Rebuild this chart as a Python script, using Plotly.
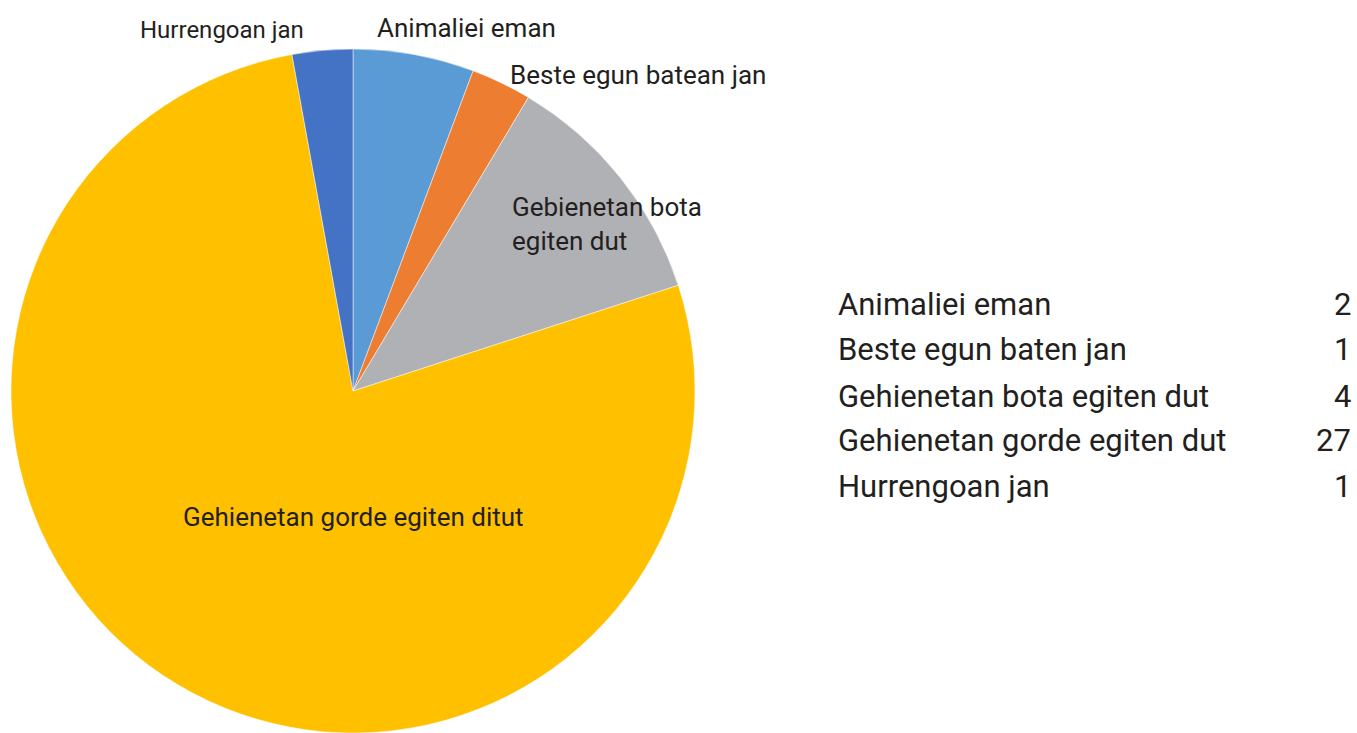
import plotly.graph_objects as go

# data
categories = ["Animaliei eman", "Beste egun baten jan", "Gehienetan bota egiten dut",
              "Gehienetan gorde egiten dut", "Hurrengoan jan"]
values = [2, 1, 4, 27, 1]
slice_labels = ["Animaliei eman", "Beste egun batean jan", "Gebienetan bota<br>egiten dut",
                "Gehienetan gorde egiten ditut", "Hurrengoan jan"]
colors = ["#5B9BD5", "#ED7D31", "#B0B1B4", "#FFC000", "#4472C4"]

W, H = 1357, 733
FONT = "Liberation Sans Narrow, Arial Narrow, Roboto, sans-serif"
TXT = "#231F20"


def px(x, y):
    return x / W, 1 - y / H


fig = go.Figure()
fig.add_trace(go.Pie(
    labels=categories, values=values, sort=False, direction="clockwise",
    marker=dict(colors=colors, line=dict(color="rgba(255,255,255,0.6)", width=0.8)),
    textinfo="none", hoverinfo="label+value", showlegend=False,
    domain=dict(x=[10 / W, 696 / W], y=[0, 1 - 49 / H]),
))

# slice labels
label_pos = [(466, 28, "center", 26), (508, 75, "left", 26), (510, 224, "left", 26),
             (353, 517, "center", 26), (222, 30, "center", 24)]
for lab, (x, y, anchor, size) in zip(slice_labels, label_pos):
    ax, ay = px(x, y)
    fig.add_annotation(x=ax, y=ay, xref="paper", yref="paper", text=lab,
                       showarrow=False, xanchor=anchor, yanchor="middle", align="left",
                       font=dict(family=FONT, size=size, color=TXT))

# table on the right
row_y = [304, 350, 396, 441, 486]
for cat, val, y in zip(categories, values, row_y):
    ax, ay = px(836, y)
    fig.add_annotation(x=ax, y=ay, xref="paper", yref="paper", text=cat,
                       showarrow=False, xanchor="left", yanchor="middle",
                       font=dict(family=FONT, size=31, color=TXT))
    ax, ay = px(1353, y)
    fig.add_annotation(x=ax, y=ay, xref="paper", yref="paper", text=str(val),
                       showarrow=False, xanchor="right", yanchor="middle",
                       font=dict(family=FONT, size=31, color=TXT))

fig.update_layout(
    width=W, height=H,
    margin=dict(l=0, r=0, t=0, b=0),
    paper_bgcolor="white", plot_bgcolor="white",
)

fig.write_html("out.html", config={"displayModeBar": False},
               post_script="document.body.style.margin='0';")
